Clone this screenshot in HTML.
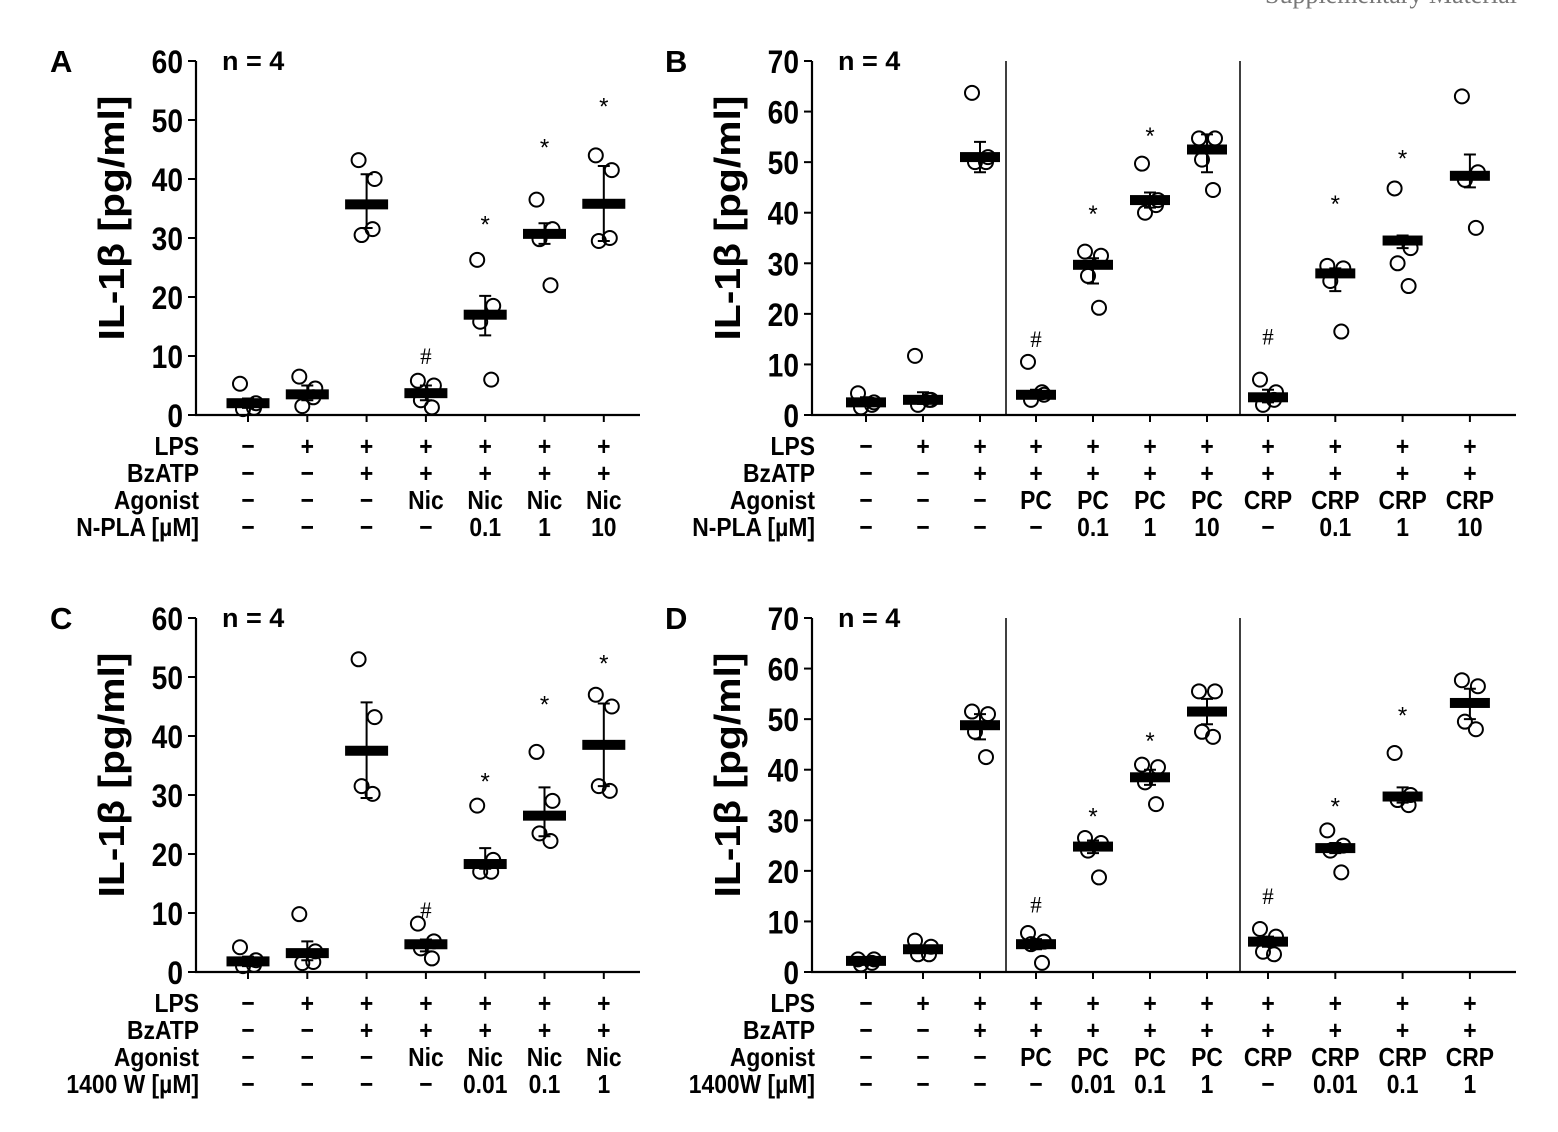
<!DOCTYPE html>
<html><head><meta charset="utf-8"><style>
html,body{margin:0;padding:0;background:#fff;}
svg{display:block;font-family:"Liberation Sans",sans-serif;}
</style></head><body>
<svg id="fig" width="1558" height="1132" viewBox="0 0 1558 1132" xmlns="http://www.w3.org/2000/svg">
<text x="1517" y="3" text-anchor="end" font-family="Liberation Serif,serif" font-size="26" fill="#777">Supplementary Material</text>
</svg>
<script>
// ===== Panel A data =====
const aMeans = [2, 3.5, 35.7, 3.7, 17, 30.7, 35.8];
const aPoints = [[5.3,2,1,1.2],[6.5,4.5,1.5,3],[43.2,40,30.5,31.5],[5.8,5,2.5,1.3],[26.3,18.5,15.8,6],[36.5,31.5,29.8,22],[44,41.5,29.5,30]];
const aErrLo = [1.2, 2.5, 31.7, 2.5, 13.5, 29, 29.5];
const aErrHi = [2.8, 5, 40.8, 5, 20.2, 32.5, 42.2];
const aMarks = ["", "", "", "#", "*", "*", "*"];
const aMarkY = [0, 0, 0, 10, 33, 46, 53];
const aRows = [["−","+","+","+","+","+","+"],["−","−","+","+","+","+","+"],["−","−","−","Nic","Nic","Nic","Nic"],["−","−","−","−","0.1","1","10"]];
const aRowLabels = ["LPS","BzATP","Agonist","N-PLA [µM]"];
const aTicks = [0,10,20,30,40,50,60];
// ===== Panel B data =====
const bMeans = [2.5, 3, 51, 4, 29.7, 42.5, 52.5, 3.5, 28, 34.5, 47.3];
const bPoints = [[4.3,2.5,1.5,2],[11.7,3,2,3],[63.7,51,50,50],[10.5,4,3,4.5],[32.3,31.5,27.5,21.2],[49.7,42.5,40,41.5],[54.7,54.7,50.5,44.5],[7,4.5,2,3],[29.5,29,26.5,16.5],[44.8,33,30,25.5],[63,48,46.5,37]];
const bErrLo = [1.8, 2.2, 48, 3.3, 26, 41, 48, 2.5, 24.5, 33, 45];
const bErrHi = [3.5, 4.5, 54, 5, 31, 44, 55.5, 5, 29, 35.5, 51.5];
const bMarks = ["", "", "", "#", "*", "*", "", "#", "*", "*", ""];
const bMarkY = [0, 0, 0, 15, 40.5, 56, 0, 15.5, 42.5, 51.5, 0];
const bRows = [["−","+","+","+","+","+","+","+","+","+","+"],["−","−","+","+","+","+","+","+","+","+","+"],["−","−","−","PC","PC","PC","PC","CRP","CRP","CRP","CRP"],["−","−","−","−","0.1","1","10","−","0.1","1","10"]];
const bRowLabels = ["LPS","BzATP","Agonist","N-PLA [µM]"];
const bTicks = [0,10,20,30,40,50,60,70];
// ===== Panel C data =====
const cMeans = [1.8, 3.2, 37.5, 4.7, 18.3, 26.5, 38.5];
const cPoints = [[4.2,2,1,1.2],[9.8,3.5,1.5,1.7],[53,43.2,31.5,30.2],[8.2,5.2,4,2.3],[28.2,19,17,17],[37.3,29,23.5,22.2],[47,45,31.5,30.7]];
const cErrLo = [1, 2, 29.5, 3.5, 17.5, 23, 31.5];
const cErrHi = [2.6, 5.2, 45.7, 5.5, 21, 31.3, 45.5];
const cMarks = ["", "", "", "#", "*", "*", "*"];
const cMarkY = [0, 0, 0, 10.5, 33, 46, 53];
const cRows = [["−","+","+","+","+","+","+"],["−","−","+","+","+","+","+"],["−","−","−","Nic","Nic","Nic","Nic"],["−","−","−","−","0.01","0.1","1"]];
const cRowLabels = ["LPS","BzATP","Agonist","1400 W [µM]"];
const cTicks = [0,10,20,30,40,50,60];
// ===== Panel D data =====
const dMeans = [2.2, 4.5, 48.8, 5.5, 24.8, 38.5, 51.5, 6, 24.5, 34.7, 53.2];
const dPoints = [[2.5,2.5,1.5,1.8],[6.2,5,3.5,3.5],[51.5,51,47.5,42.5],[7.7,6,5.5,1.8],[26.5,25.5,24,18.7],[41,40.5,37.5,33.2],[55.5,55.5,47.5,46.5],[8.5,7,4,3.5],[28,25,24,19.7],[43.3,35,34,33],[57.7,56.5,49.5,48]];
const dErrLo = [1.8, 3.8, 46, 4.5, 23.5, 37, 49, 5, 23.5, 33.5, 50];
const dErrHi = [2.8, 5.2, 51, 6.5, 26, 40, 54, 7, 25.5, 36.5, 56];
const dMarks = ["", "", "", "#", "*", "*", "", "#", "*", "*", ""];
const dMarkY = [0, 0, 0, 13.3, 31.5, 46.5, 0, 15, 33.5, 51.5, 0];
const dRows = [["−","+","+","+","+","+","+","+","+","+","+"],["−","−","+","+","+","+","+","+","+","+","+"],["−","−","−","PC","PC","PC","PC","CRP","CRP","CRP","CRP"],["−","−","−","−","0.01","0.1","1","−","0.01","0.1","1"]];
const dRowLabels = ["LPS","BzATP","Agonist","1400W [µM]"];
const dTicks = [0,10,20,30,40,50,60,70];

const NS = "http://www.w3.org/2000/svg";
const svg = document.getElementById("fig");
function mk(tag, attrs, parent, txt){
  const e = document.createElementNS(NS, tag);
  for (const k in attrs) e.setAttribute(k, attrs[k]);
  if (txt !== undefined) e.textContent = txt;
  (parent || svg).appendChild(e);
  return e;
}
function condText(x, y, size, anchor, txt, parent){
  return mk("text", {x: 0, y: 0, "font-size": size, "font-weight": "bold", "text-anchor": anchor,
    transform: "translate(" + x + "," + y + ") scale(0.88,1)"}, parent, txt);
}

function panel(cfg){
  const g = mk("g", {});
  
  
  const yS = v => cfg.y0 - (v / cfg.ymax) * (cfg.y0 - cfg.yTop);
  const xS = i => {
    let gi = 0, idx = i;
    for (let k = 0; k < cfg.groups.length; k++) {
      if (idx < cfg.groups[k].n) { gi = k; break; }
      idx -= cfg.groups[k].n;
    }
    return cfg.groups[gi].start + idx * cfg.groups[gi].step;
  };
  const n = cfg.means.length;
  const L = mk("text", {x: cfg.letterX, y: cfg.yTop + 11, "font-size": 31, "font-weight": "bold"}, g, cfg.letter);
  
  
  const nt = mk("text", {x: cfg.x0 + 26, y: cfg.yTop + 9, "font-size": 27, "font-weight": "bold"}, g, "n = 4");
  
  
  const yt = mk("text", {x: 0, y: 0, "font-size": 36, "font-weight": "bold", "text-anchor": "middle",
    textLength: 245, lengthAdjust: "spacingAndGlyphs",
    transform: "translate(" + (cfg.x0 - 72) + "," + (cfg.yTop + 157) + ") rotate(-90)"}, g, "IL-1β [pg/ml]");
  
  
  const ya = mk("line", {x1: cfg.x0, y1: cfg.yTop, x2: cfg.x0, y2: cfg.y0 + 1, stroke: "#000", "stroke-width": 2.2}, g);
  
  
  const xa = mk("line", {x1: cfg.x0 - 1, y1: cfg.y0, x2: cfg.xEnd, y2: cfg.y0, stroke: "#000", "stroke-width": 2.2}, g);
  
  
  cfg.ticks.forEach(t => {
    const y = yS(t);
    mk("line", {x1: cfg.x0 - 8, y1: y, x2: cfg.x0, y2: y, stroke: "#000", "stroke-width": 2}, g);
    const tl = condText(cfg.x0 - 13, y + 12, 32, "end", String(t), g);
    
    
  });
  (cfg.dividers || []).forEach(dx => {
    const d = mk("line", {x1: dx, y1: cfg.yTop, x2: dx, y2: cfg.y0, stroke: "#000", "stroke-width": 1.5}, g);
    
    
  });
  const jit = [-8, 8, -5, 6];
  for (let i = 0; i < n; i++) {
    const x = xS(i);
    mk("line", {x1: x, y1: cfg.y0, x2: x, y2: cfg.y0 + 7, stroke: "#000", "stroke-width": 2}, g);
    cfg.points[i].forEach((v, j) => {
      const c = mk("circle", {cx: x + jit[j], cy: yS(v), r: 7, fill: "none", stroke: "#000", "stroke-width": 2}, g);
      
      
    });
    const eb = mk("path", {d: "M" + x + " " + yS(cfg.errLo[i]) + "V" + yS(cfg.errHi[i]) +
      "M" + (x - 6) + " " + yS(cfg.errHi[i]) + "H" + (x + 6) + "M" + (x - 6) + " " + yS(cfg.errLo[i]) + "H" + (x + 6),
      stroke: "#000", "stroke-width": 2, fill: "none"}, g);
    
    
    const mb = mk("rect", {x: x - cfg.barW / 2, y: yS(cfg.means[i]) - 5, width: cfg.barW, height: 10, fill: "#000"}, g);
    
    
    if (cfg.marks[i]) {
      const isStar = cfg.marks[i] === "*";
      const m = mk("text", {x: x, y: yS(cfg.markY[i]) + (isStar ? 12 : 8), "font-size": isStar ? 24 : 23, "text-anchor": "middle",
        "font-family": isStar ? "Liberation Sans,sans-serif" : "Liberation Serif,serif"}, g, cfg.marks[i]);
      
      
    }
    cfg.rows.forEach((row, r) => {
      const t = condText(x, cfg.y0 + 40 + r * 27, 26, "middle", row[i], g);
      
      
    });
  }
  cfg.rowLabels.forEach((lab, r) => {
    const t = condText(cfg.x0 + 3, cfg.y0 + 40 + r * 27, 26, "end", lab, g);
    
    
  });
}

panel({letter:"A", letterX:50, x0:196, xEnd:640, yTop:61, y0:415, ymax:60, barW:43,
  groups:[{start:248, step:59.3, n:7}], means:aMeans, points:aPoints, errLo:aErrLo, errHi:aErrHi,
  marks:aMarks, markY:aMarkY, rows:aRows, rowLabels:aRowLabels, ticks:aTicks});
panel({letter:"B", letterX:665, x0:812, xEnd:1516, yTop:61, y0:415, ymax:70, barW:40,
  groups:[{start:866, step:57, n:3},{start:1036, step:57, n:4},{start:1268, step:67.3, n:4}], dividers:[1006,1240],
  means:bMeans, points:bPoints, errLo:bErrLo, errHi:bErrHi,
  marks:bMarks, markY:bMarkY, rows:bRows, rowLabels:bRowLabels, ticks:bTicks});
panel({letter:"C", letterX:50, x0:196, xEnd:640, yTop:618, y0:972, ymax:60, barW:43,
  groups:[{start:248, step:59.3, n:7}], means:cMeans, points:cPoints, errLo:cErrLo, errHi:cErrHi,
  marks:cMarks, markY:cMarkY, rows:cRows, rowLabels:cRowLabels, ticks:cTicks});
panel({letter:"D", letterX:665, x0:812, xEnd:1516, yTop:618, y0:972, ymax:70, barW:40,
  groups:[{start:866, step:57, n:3},{start:1036, step:57, n:4},{start:1268, step:67.3, n:4}], dividers:[1006,1240],
  means:dMeans, points:dPoints, errLo:dErrLo, errHi:dErrHi,
  marks:dMarks, markY:dMarkY, rows:dRows, rowLabels:dRowLabels, ticks:dTicks});
</script>
</body></html>
